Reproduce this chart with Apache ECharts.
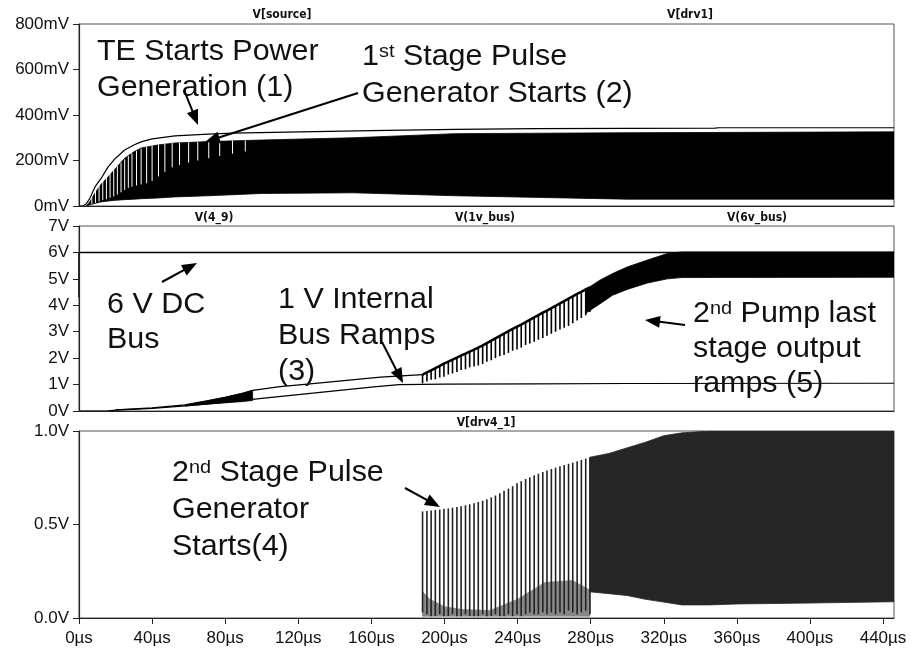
<!DOCTYPE html>
<html><head><meta charset="utf-8">
<script src="https://cdn.jsdelivr.net/npm/echarts@6/dist/echarts.min.js"></script>
<style>html,body{margin:0;padding:0;background:#fff}#c{width:915px;height:653px}</style>
</head><body><div id="c"></div>
<script>
// ---------------- DATA ----------------
// time in µs
const xTickValues = [0,40,80,120,160,200,240,280,320,360,400,440];

// Panel 1: V[source] (mV)
const srcT = [0,2,4,6,8.8,12,16,20,25,30,34.3,40,52.5,70.8,84,121,160,206,250,300,348,350,446];
const srcV = [0,0,10,35,85,120,173,210,246,268,283,295,308,316,320,326,331,337,340,341,342,344,344];
// Panel 1: V[drv1] oscillation envelope (mV)
const drv1T  = [4,6,9,12,16,20,25,30,34,43,52.5,70.8,100,150,206,300,446];
const drv1Hi = [0,20,60,95,129,165,210,238,255,268,277,283,290,300,318,322,326];
const drv1Lo = [0,5,12,18,22,25,28,30,32,35,40,45,55,58,45,30,30];
// Panel 1: visible gaps between early drv1 oscillations (mV)
const gapT  = [7,9,11,13,15,17,19,21,23,25,27,29,31.5,34,37,40,43.5,47,51,55,60,65,71,77,84,91];
const gapLo = [8,14,20,26,30,36,42,50,60,70,80,85,90,95,100,110,130,150,170,180,190,200,210,220,230,240];
const gapHi = [40,70,90,110,128,145,160,175,190,205,220,232,242,252,260,266,270,273,276,278,280,282,284,286,288,289];

// Panel 2: V(4_9) 6 V DC bus (V)
const bus49T = [0,0,446];
const bus49V = [4.3,6,6];
// Panel 2: V(1v_bus) (V)
const bus1T = [0,15,20,40,60,80,100,120,140,160,175,200,250,300,446];
const bus1V = [0,0,0.03,0.1,0.2,0.33,0.48,0.62,0.76,0.9,1.0,1.02,1.03,1.04,1.05];
// Panel 2: V(6v_bus) early trace (V)
const bus6T = [20,40,58,70,80,90,95,110,125,145,165,188];
const bus6V = [0.04,0.12,0.23,0.38,0.52,0.68,0.78,0.92,1.02,1.15,1.28,1.38];
// Panel 2: V(6v_bus) early oscillating wedge
const wedgeT  = [58,70,80,90,95];
const wedgeLo = [0.19,0.26,0.31,0.36,0.4];
const wedgeHi = [0.23,0.38,0.52,0.68,0.78];
// pulse instants of the 2nd stage (µs)
const pulseT = [188.0,190.4,192.7,195.0,197.4,199.7,202.1,204.4,206.8,209.1,
                211.5,213.8,216.2,218.5,220.9,223.2,225.6,227.9,230.3,232.6,
                235.0,237.3,239.7,242.0,244.4,246.7,249.1,251.4,253.8,256.1,
                258.5,260.8,263.2,265.5,267.9,270.2,272.6,274.9,277.3,279.6];
// Panel 2: V(6v_bus) ramp top and spike bottoms (V)
const bus6Top = [1.38,1.46,1.54,1.62,1.71,1.79,1.87,1.94,2.02,2.10,
                 2.17,2.25,2.32,2.40,2.48,2.57,2.66,2.75,2.84,2.93,
                 3.02,3.11,3.19,3.27,3.36,3.45,3.54,3.63,3.72,3.80,
                 3.89,3.98,4.07,4.16,4.25,4.34,4.43,4.51,4.60,4.68];
const bus6Bot = [1.05,1.12,1.18,1.20,1.27,1.30,1.38,1.42,1.48,1.55,
                 1.58,1.65,1.68,1.72,1.78,1.86,1.92,2.00,2.08,2.12,
                 2.20,2.28,2.33,2.40,2.50,2.55,2.62,2.70,2.76,2.85,
                 2.92,3.00,3.08,3.15,3.22,3.32,3.42,3.52,3.62,3.75];
// Panel 2: V(6v_bus) dense band (V)
const band2T  = [277.3,285,292,300,311,322,330,446];
const band2Hi = [4.60,4.95,5.20,5.45,5.71,5.96,6.02,6.02];
const band2Lo = [3.70,4.05,4.38,4.60,4.84,5.00,5.05,5.06];

// Panel 3: V[drv4_1] pulse peaks and lows (V)
const drv4Peak = [0.570,0.572,0.575,0.578,0.580,0.583,0.586,0.590,0.594,0.598,
                  0.603,0.608,0.614,0.620,0.627,0.635,0.645,0.655,0.667,0.680,
                  0.692,0.705,0.720,0.732,0.743,0.753,0.763,0.772,0.781,0.789,
                  0.797,0.804,0.811,0.818,0.825,0.831,0.838,0.845,0.852,0.860];
const drv4Low  = [0.03,0.02,0.01,0.01,0.02,0.01,0.01,0.02,0.01,0.01,
                  0.02,0.01,0.01,0.01,0.02,0.01,0.01,0.02,0.01,0.01,
                  0.02,0.01,0.02,0.01,0.02,0.03,0.02,0.02,0.03,0.02,
                  0.03,0.02,0.03,0.02,0.04,0.03,0.02,0.03,0.04,0.02];
// Panel 3: grey residual between pulses
const greyT  = [188,192,200,210,225,240,255,270,279.6];
const greyHi = [0.14,0.10,0.06,0.045,0.04,0.10,0.19,0.20,0.15];
const greyLo = [0.01,0.01,0.01,0.01,0.01,0.01,0.01,0.01,0.01];
// Panel 3: dense band
const band3T  = [279.6,290,300,310,320,330,345,360,400,446];
const band3Hi = [0.86,0.88,0.91,0.94,0.975,0.99,1.0,1.0,1.0,1.0];
const band3Lo = [0.14,0.13,0.12,0.10,0.085,0.07,0.07,0.075,0.08,0.087];

// ---------------- CHART ----------------
const FONT = '"Liberation Sans", Arial, sans-serif';
const chart = echarts.init(document.getElementById('c'), null, {renderer:'canvas'});

function lineSeries(g, T, V, color, w, z) {
  return {type:'line', xAxisIndex:g, yAxisIndex:g, data:T.map((t,i)=>[t,V[i]]),
    showSymbol:false, symbol:'none', lineStyle:{color:color, width:w}, z:z||4, silent:true, clip:true};
}
function bandSeries(g, T, LO, HI, color, z) {
  return {type:'custom', xAxisIndex:g, yAxisIndex:g, z:z||3, silent:true, clip:true,
    data:T.map((t,i)=>[t,LO[i],HI[i]]), encode:{x:0,y:[1,2]},
    renderItem:function(p, api){
      if (p.dataIndex !== 0) return null;
      const pts = [];
      for (let i=0;i<T.length;i++) pts.push(api.coord([T[i],HI[i]]));
      for (let i=T.length-1;i>=0;i--) pts.push(api.coord([T[i],LO[i]]));
      return {type:'polygon', shape:{points:pts}, style:{fill:color, stroke:color, lineWidth:0.8}};
    }};
}
function pulseSeries(g, T, LO, HI, color, w, z) {
  return {type:'custom', xAxisIndex:g, yAxisIndex:g, z:z||4, silent:true, clip:true,
    data:T.map((t,i)=>[t,LO[i],HI[i]]), encode:{x:0,y:[1,2]},
    renderItem:function(p, api){
      const a = api.coord([api.value(0), api.value(1)]);
      const b = api.coord([api.value(0), api.value(2)]);
      return {type:'line', shape:{x1:a[0],y1:a[1],x2:b[0],y2:b[1]}, style:{stroke:color, lineWidth:w}};
    }};
}

const grids = [
  {left:79, right:21, top:24, height:182},
  {left:79, right:21, top:226, height:185},
  {left:79, right:21, top:431, height:187}
].map(g => Object.assign(g, {show:true, borderColor:'#555', borderWidth:1, backgroundColor:'transparent'}));

function xAx(i, labels) {
  return {type:'value', gridIndex:i, min:0, max:446, interval:40, z:10,
    axisLine:{show:true, onZero:false, lineStyle:{color:'#222', width:1.2}},
    axisTick:{show:labels, length:6, lineStyle:{color:'#222'}},
    axisLabel:{show:labels, margin:12, fontSize:17, fontFamily:FONT, color:'#111', showMaxLabel:false,
      formatter: v => (xTickValues.indexOf(v) >= 0 ? v + 'µs' : '')},
    splitLine:{show:false}};
}
function yAx(i, max, interval, fmt) {
  return {type:'value', gridIndex:i, min:0, max:max, interval:interval, z:10,
    axisLine:{show:true, lineStyle:{color:'#222', width:1.2}},
    axisTick:{show:true, length:6, lineStyle:{color:'#222'}},
    axisLabel:{margin:10, fontSize:17, fontFamily:FONT, color:'#111', formatter:fmt},
    splitLine:{show:false}};
}

const series = [
  // panel 1
  bandSeries(0, drv1T, drv1Lo, drv1Hi, '#000', 3),
  pulseSeries(0, gapT, gapLo, gapHi, '#fff', 1, 3.5),
  lineSeries(0, srcT, srcV, '#000', 1.2, 4),
  // panel 2
  lineSeries(1, bus49T, bus49V, '#000', 1.5, 4),
  lineSeries(1, bus1T, bus1V, '#000', 1.2, 4),
  lineSeries(1, bus6T, bus6V, '#000', 1.2, 4),
  bandSeries(1, wedgeT, wedgeLo, wedgeHi, '#000', 3),
  pulseSeries(1, pulseT, bus6Bot, bus6Top, '#000', 1.6, 4),
  lineSeries(1, pulseT, bus6Top, '#000', 2.5, 4),
  bandSeries(1, band2T, band2Lo, band2Hi, '#000', 3),
  // panel 3
  bandSeries(2, greyT, greyLo, greyHi, '#888', 3),
  pulseSeries(2, pulseT, drv4Low, drv4Peak, '#222', 1.6, 4),
  bandSeries(2, band3T, band3Lo, band3Hi, '#262626', 3)
];

// ---------- annotations ----------
const G = [];
const SIZE = 29, SCX = 1.05, SUP = 19;
const mctx = document.createElement('canvas').getContext('2d');
function mw(text, size) { mctx.font = size + 'px ' + FONT; return mctx.measureText(text).width; }
function txt(x, y, text, size) {
  G.push({type:'text', z:100, x:x, y:y, scaleX:SCX,
    style:{text:text, font: size + 'px ' + FONT, fill:'#111', verticalAlign:'middle', align:'left'}});
}
// text with a superscript: pre + sup + post
function stxt(x, y, pre, sup, post) {
  const w1 = mw(pre, SIZE) * SCX, w2 = mw(sup, SUP) * SCX;
  txt(x, y, pre, SIZE);
  txt(x + w1, y - 5, sup, SUP);
  txt(x + w1 + w2, y, post, SIZE);
}
function small(cx, cy, text) {
  G.push({type:'text', z:100, x:cx, y:cy, style:{text:text, font:'bold 12px "Liberation Sans Narrow", "DejaVu Sans Condensed", sans-serif', fill:'#111', align:'center', verticalAlign:'middle'}});
}
function arrow(x1,y1,x2,y2,hl,hw) {
  hl = hl||15; hw = hw||12;
  const dx=x2-x1, dy=y2-y1, L=Math.hypot(dx,dy), ux=dx/L, uy=dy/L;
  const bx=x2-ux*hl, by=y2-uy*hl;
  G.push({type:'line', z:100, shape:{x1:x1,y1:y1,x2:bx+ux*2,y2:by+uy*2}, style:{stroke:'#000', lineWidth:2}});
  G.push({type:'polygon', z:100, shape:{points:[[x2,y2],[bx-uy*hw/2,by+ux*hw/2],[bx+uy*hw/2,by-ux*hw/2]]}, style:{fill:'#000'}});
}

small(282, 15, 'V[source]');
small(690, 15, 'V[drv1]');
small(214, 218, 'V(4_9)');
small(485, 218, 'V(1v_bus)');
small(757, 218, 'V(6v_bus)');
small(486, 423, 'V[drv4_1]');

txt(97, 52, 'TE Starts Power', SIZE);
txt(97, 88, 'Generation (1)', SIZE);
stxt(362, 57, '1', 'st', ' Stage Pulse');
txt(362, 94, 'Generator Starts (2)', SIZE);

txt(107, 305, '6 V DC', SIZE);
txt(107, 340, 'Bus', SIZE);
txt(278, 300, '1 V Internal', SIZE);
txt(278, 336, 'Bus Ramps', SIZE);
txt(278, 372, '(3)', SIZE);
stxt(693, 314, '2', 'nd', ' Pump last');
txt(693, 349, 'stage output', SIZE);
txt(693, 384, 'ramps (5)', SIZE);

stxt(172, 473, '2', 'nd', ' Stage Pulse');
txt(172, 510, 'Generator', SIZE);
txt(172, 547, 'Starts(4)', SIZE);

arrow(184, 90, 198, 125);
arrow(358, 93, 205, 142);
arrow(162, 282, 197, 263);
arrow(382, 342, 403, 383);
arrow(685, 325, 645, 320);
arrow(405, 488, 440, 507);

chart.setOption({
  animation:false,
  backgroundColor:'#fff',
  grid: grids,
  xAxis: [xAx(0,false), xAx(1,false), xAx(2,true)],
  yAxis: [
    yAx(0, 800, 200, v => v + 'mV'),
    yAx(1, 7, 1, v => v + 'V'),
    yAx(2, 1, 0.5, v => v.toFixed(1) + 'V')
  ],
  series: series,
  graphic: G
});
</script></body></html>
